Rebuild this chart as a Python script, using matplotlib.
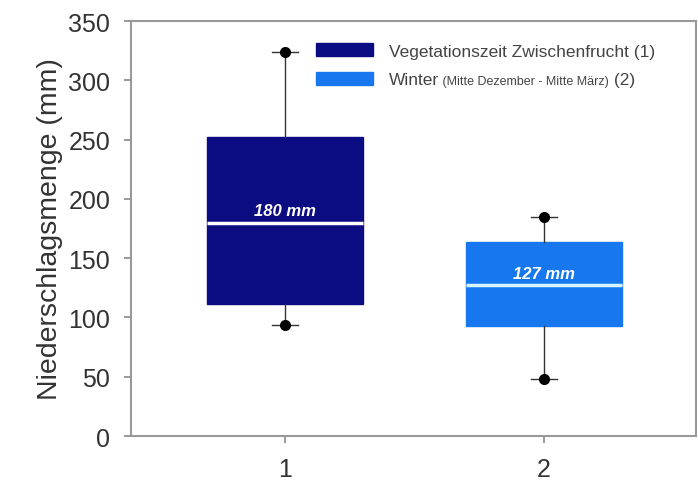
import matplotlib
matplotlib.use("Agg")
import matplotlib.pyplot as plt
from matplotlib.patches import Patch

# Data
categories = [1, 2]
medians = [180, 127]
q1 = [111, 93]
q3 = [252, 164]
whis_lo = [94, 48]
whis_hi = [324, 185]
median_labels = ["180 mm", "127 mm"]
legend_labels = ["Vegetationszeit Zwischenfrucht (1)", "Winter"]
legend_sub = "(Mitte Dezember - Mitte März)"
legend_tail = "(2)"
colors = ["#0b0b82", "#1677ee"]
median_colors = ["#ffffff", "#d8f4ff"]
yticks = [0, 50, 100, 150, 200, 250, 300, 350]

plt.rcParams['font.family'] = ['Liberation Sans', 'DejaVu Sans']

fig = plt.figure(figsize=(6.98, 4.89), dpi=100)
ax = fig.add_axes([0.1877, 0.1063, 0.997 - 0.1877, 0.955 - 0.1063])

stats = []
for i in range(len(categories)):
    stats.append(dict(med=medians[i], q1=q1[i], q3=q3[i],
                      whislo=whis_lo[i], whishi=whis_hi[i],
                      fliers=[whis_lo[i], whis_hi[i]]))

bp = ax.bxp(stats, positions=categories, widths=0.6, patch_artist=True,
            showfliers=True,
            whiskerprops=dict(color="#333333", lw=1.0),
            capprops=dict(color="#333333", lw=1.0),
            flierprops=dict(marker='o', markerfacecolor='black',
                            markeredgecolor='black', markersize=7),
            capwidths=0.1)
for i, box in enumerate(bp['boxes']):
    box.set_facecolor(colors[i])
    box.set_edgecolor(colors[i])
    box.set_linewidth(1.0)
for i, med in enumerate(bp['medians']):
    med.set_color(median_colors[i])
    med.set_linewidth(2.5)
    med.set_zorder(3)

for i in range(len(categories)):
    ax.annotate(median_labels[i], xy=(categories[i], medians[i]),
                xytext=(0, 3), textcoords='offset points',
                ha='center', va='bottom', color='white',
                fontsize=12, fontweight='bold', fontstyle='italic', zorder=4)

ax.set_xlim(0.405, 2.587)
ax.set_ylim(0, 350)
ax.set_yticks(yticks)
ax.set_xticks(categories)
ax.set_xticklabels([str(c) for c in categories])
ax.tick_params(axis='both', labelsize=18, colors='#888888', labelcolor='#333333',
               direction='out', length=5, width=1.2)
ax.tick_params(axis='y', pad=10)
ax.tick_params(axis='x', pad=10)
for s in ax.spines.values():
    s.set_color('#999999')
    s.set_linewidth(1.5)
ax.set_ylabel("Niederschlagsmenge (mm)", fontsize=20.5, color='#333333', labelpad=4)

handles = [Patch(facecolor=colors[0], edgecolor=colors[0]),
           Patch(facecolor=colors[1], edgecolor=colors[1])]
leg = ax.legend(handles, legend_labels, loc='upper left',
                bbox_to_anchor=(0.3, 0.985), frameon=False, fontsize=12.5,
                handlelength=3.3, handleheight=0.8, handletextpad=0.9,
                labelspacing=0.75, labelcolor='#444444')
fig.canvas.draw()
t2 = leg.get_texts()[1]
a1 = ax.annotate(" " + legend_sub, xy=(1, 0), xycoords=t2, ha='left', va='bottom',
                 fontsize=9, color='#444444')
fig.canvas.draw()
ax.annotate(" " + legend_tail, xy=(1, 0), xycoords=a1, ha='left', va='bottom',
            fontsize=12.5, color='#444444')

fig.savefig("out.png", dpi=100)
